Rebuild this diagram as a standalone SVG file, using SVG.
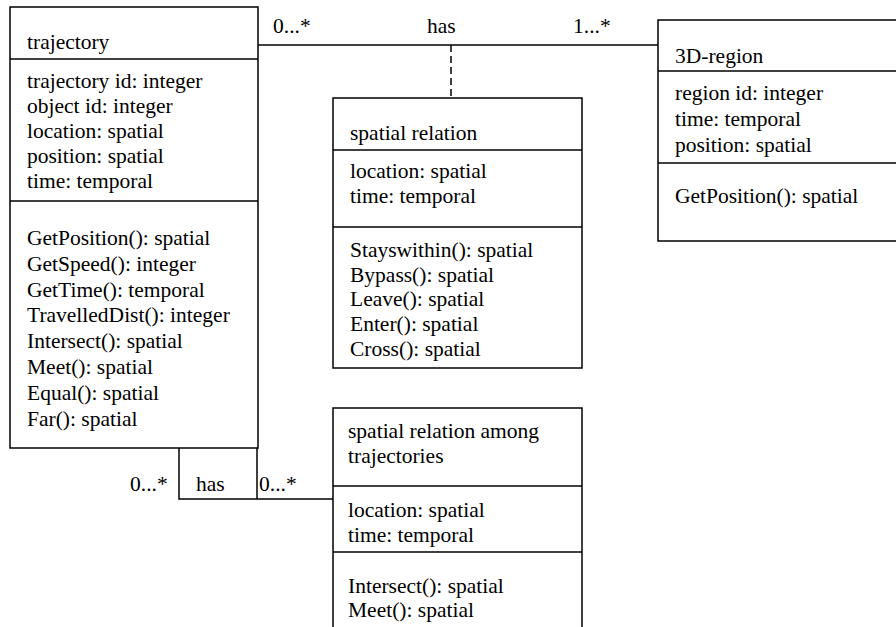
<svg xmlns="http://www.w3.org/2000/svg" width="896" height="627" viewBox="0 0 896 627">
<style>
.box{fill:#fff;stroke:#000;stroke-width:1.5}
.ln{fill:none;stroke:#000;stroke-width:1.5}
.dash{fill:none;stroke:#000;stroke-width:1.5;stroke-dasharray:7 4}
text{font-family:"Liberation Serif","Times New Roman",serif;font-size:21.5px;fill:#000}
</style>
<rect width="896" height="627" fill="#fff"/>
<g id="connectors">
<line class="ln" x1="258" y1="45" x2="658" y2="45"/>
<line class="dash" x1="451" y1="45" x2="451" y2="98"/>
<polyline class="ln" points="179,448 179,499 333,499"/>
<line class="ln" x1="257" y1="448" x2="257" y2="499"/>
<text x="273" y="33">0...*</text>
<text x="427" y="33">has</text>
<text x="573" y="33">1...*</text>
<text x="130" y="491">0...*</text>
<text x="196" y="491">has</text>
<text x="259" y="491">0...*</text>
</g>
<g id="trajectory">
<rect class="box" x="10" y="7" width="248" height="441"/>
<line class="ln" x1="10" y1="59" x2="258" y2="59"/>
<line class="ln" x1="10" y1="201" x2="258" y2="201"/>
<text x="27" y="49">trajectory</text>
<text x="27" y="88">trajectory id: integer</text>
<text x="27" y="113">object id: integer</text>
<text x="27" y="138">location: spatial</text>
<text x="27" y="163">position: spatial</text>
<text x="27" y="188">time: temporal</text>
<text x="27" y="245">GetPosition(): spatial</text>
<text x="27" y="271">GetSpeed(): integer</text>
<text x="27" y="297">GetTime(): temporal</text>
<text x="27" y="322">TravelledDist(): integer</text>
<text x="27" y="348">Intersect(): spatial</text>
<text x="27" y="374">Meet(): spatial</text>
<text x="27" y="400">Equal(): spatial</text>
<text x="27" y="426">Far(): spatial</text>
</g>
<g id="region3d">
<rect class="box" x="658" y="20" width="250" height="221"/>
<line class="ln" x1="658" y1="71" x2="896" y2="71"/>
<line class="ln" x1="658" y1="163" x2="896" y2="163"/>
<text x="675" y="63">3D-region</text>
<text x="675" y="100">region id: integer</text>
<text x="675" y="126">time: temporal</text>
<text x="675" y="152">position: spatial</text>
<text x="675" y="203">GetPosition(): spatial</text>
</g>
<g id="spatialRelation">
<rect class="box" x="333" y="98" width="249" height="270"/>
<line class="ln" x1="333" y1="150" x2="582" y2="150"/>
<line class="ln" x1="333" y1="227" x2="582" y2="227"/>
<text x="350" y="140">spatial relation</text>
<text x="350" y="178">location: spatial</text>
<text x="350" y="203">time: temporal</text>
<text x="350" y="257">Stayswithin(): spatial</text>
<text x="350" y="282">Bypass(): spatial</text>
<text x="350" y="306">Leave(): spatial</text>
<text x="350" y="331">Enter(): spatial</text>
<text x="350" y="356">Cross(): spatial</text>
</g>
<g id="spatialRelationAmong">
<rect class="box" x="333" y="408" width="249" height="240"/>
<line class="ln" x1="333" y1="486" x2="582" y2="486"/>
<line class="ln" x1="333" y1="552" x2="582" y2="552"/>
<text x="348" y="438">spatial relation among</text>
<text x="348" y="463">trajectories</text>
<text x="348" y="517">location: spatial</text>
<text x="348" y="542">time: temporal</text>
<text x="348" y="593">Intersect(): spatial</text>
<text x="348" y="617">Meet(): spatial</text>
</g>
</svg>
